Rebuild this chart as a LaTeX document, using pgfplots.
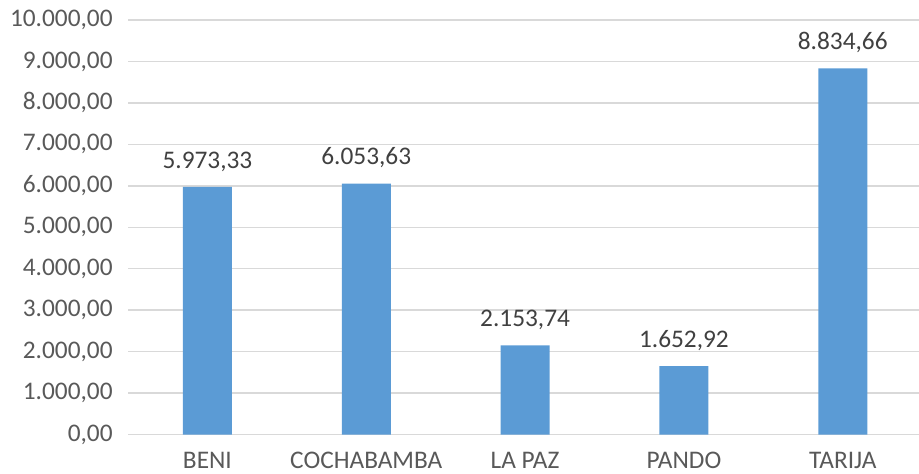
\documentclass[border=0pt]{standalone}
\usepackage{pgfplots}
\pgfplotsset{compat=1.18}
\usepackage{fontspec}
\setmainfont{Carlito}
\definecolor{barblue}{HTML}{5B9BD5}
\definecolor{gridgray}{HTML}{D9D9D9}
\definecolor{txt}{HTML}{595959}
\definecolor{lbl}{HTML}{404040}
\begin{document}
\begin{tikzpicture}
\path[use as bounding box] (-96pt,-28.9pt) rectangle (689.25pt-96pt,325.9pt);
\begin{axis}[
  at={(0,0)}, anchor=south west,
  scale only axis,
  width=593.25pt, height=310.9pt,
  xmin=-0.5, xmax=4.48,
  ymin=0, ymax=10000,
  ytick={0,1000,...,10000},
  scaled y ticks=false,
  xtick=data,
  xticklabels={BENI,COCHABAMBA,LA PAZ,PANDO,TARIJA},
  axis line style={draw=none},
  ymajorgrids, grid style={gridgray, line width=1.1pt},
  major tick length=0pt,
  tick label style={font=\fontsize{19}{22}\selectfont, text=txt},
  yticklabel style={xshift=-8pt},
  xticklabel style={yshift=-9.5pt},
  /pgf/number format/assume math mode=true,
  /pgf/number format/.cd, fixed, fixed zerofill, precision=2, 1000 sep={.}, dec sep={,},
  /pgfplots/.cd,
  clip=false,
]
\addplot[ybar, bar width=36.75pt, fill=barblue, draw=none,
  nodes near coords,
  nodes near coords style={font=\fontsize{19}{22}\selectfont, text=lbl, yshift=8pt,
    /pgf/number format/.cd, fixed, fixed zerofill, precision=2, 1000 sep={.}, dec sep={,}, assume math mode=true},
] coordinates {(0,5973.33) (1,6053.63) (2,2153.74) (3,1652.92) (4,8834.66)};
\end{axis}
\end{tikzpicture}
\end{document}
